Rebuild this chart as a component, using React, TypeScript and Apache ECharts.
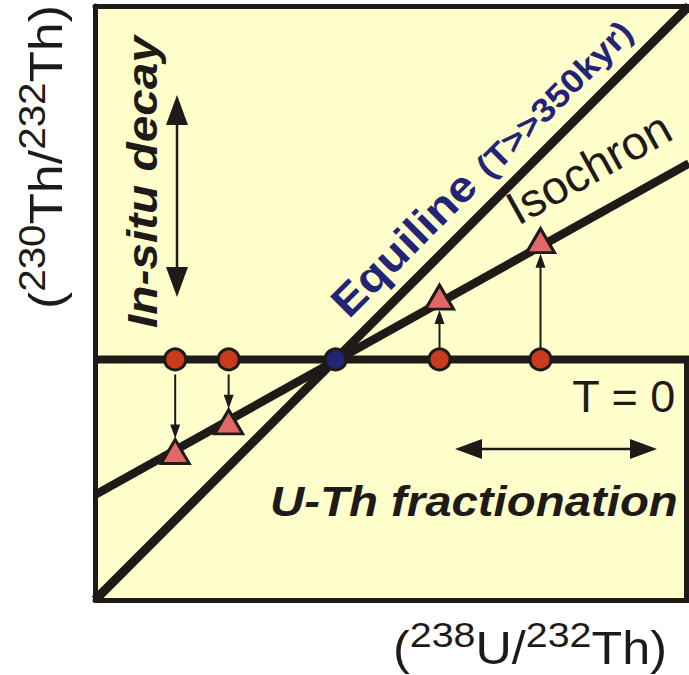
import React, { useEffect, useRef } from "react";
import * as echarts from "echarts";

// ---- data ----
const xRange = [0, 10];
const yRange = [0, 10];
const equilineX = [0, 10];
const equilineY = [0, 10];
const isochronX = [0, 10];
const isochronY = [1.77, 7.35];
const t0Level = 4.05;
const equilibriumPoint = [4.05, 4.05];
const initialX = [1.35, 2.25, 5.8, 7.5]; // circles on the T = 0 line
const isochronPointY = [2.5, 3.0, 5.1, 6.05]; // triangles on the isochron

const INK = "#1e1a17";
const NAVY = "#232377";
const BG = "#FFFFCC";
const FAMILY = "'Liberation Sans', Arial, Helvetica, sans-serif";

let ctx: CanvasRenderingContext2D | null = null;
function measure(text: string, font: string): number {
  if (!ctx) ctx = document.createElement("canvas").getContext("2d");
  if (!ctx) return text.length * 20;
  ctx.font = font;
  return ctx.measureText(text).width;
}

type Part = { text: string; size: number; raise?: number; weight?: string; fstyle?: string; color?: string };

function buildRun(parts: Part[]) {
  let x = 0;
  const children: any[] = [];
  for (const p of parts) {
    const weight = p.weight || "normal";
    const fstyle = p.fstyle || "normal";
    const font = `${fstyle} ${weight} ${p.size}px ${FAMILY}`;
    const w = measure(p.text, font);
    children.push({
      type: "text",
      x,
      y: -(p.raise || 0) - 0.35 * p.size,
      style: {
        text: p.text,
        fontSize: p.size,
        fontFamily: FAMILY,
        fontWeight: weight,
        fontStyle: fstyle,
        fill: p.color || INK,
        align: "left",
        verticalAlign: "middle",
      },
    });
    x += w;
  }
  return { children, width: x };
}

function label(parts: Part[], x: number, y: number, rotation: number, targetWidth?: number, alignRight?: boolean) {
  const run = buildRun(parts);
  const sx = targetWidth ? targetWidth / run.width : 1;
  return {
    type: "group",
    x: alignRight ? x - run.width * sx : x,
    y,
    rotation,
    scaleX: sx,
    z: 10,
    children: run.children,
  };
}

function doubleArrow(x1: number, y1: number, x2: number, y2: number, headLen: number, headHalf: number) {
  const dx = x2 - x1;
  const dy = y2 - y1;
  const L = Math.hypot(dx, dy);
  const ux = dx / L;
  const uy = dy / L;
  const px = -uy;
  const py = ux;
  return {
    type: "group",
    z: 10,
    children: [
      {
        type: "line",
        shape: { x1: x1 + ux * headLen * 0.8, y1: y1 + uy * headLen * 0.8, x2: x2 - ux * headLen * 0.8, y2: y2 - uy * headLen * 0.8 },
        style: { stroke: INK, lineWidth: 2.5 },
      },
      {
        type: "polygon",
        shape: {
          points: [
            [x1, y1],
            [x1 + ux * headLen + px * headHalf, y1 + uy * headLen + py * headHalf],
            [x1 + ux * headLen - px * headHalf, y1 + uy * headLen - py * headHalf],
          ],
        },
        style: { fill: INK },
      },
      {
        type: "polygon",
        shape: {
          points: [
            [x2, y2],
            [x2 - ux * headLen + px * headHalf, y2 - uy * headLen + py * headHalf],
            [x2 - ux * headLen - px * headHalf, y2 - uy * headLen - py * headHalf],
          ],
        },
        style: { fill: INK },
      },
    ],
  };
}

export default function App() {
  const ref = useRef<HTMLDivElement>(null);

  useEffect(() => {
    if (!ref.current) return;
    const chart = echarts.init(ref.current, null, { renderer: "svg" });

    const isoAngle = Math.atan((isochronY[1] - isochronY[0]) / (isochronX[1] - isochronX[0]));

    const option: any = {
      animation: false,
      backgroundColor: "#ffffff",
      grid: {
        left: 95,
        top: 6,
        width: 594,
        height: 594,
        show: true,
        backgroundColor: BG,
        borderWidth: 0,
      },
      xAxis: [
        {
          type: "value",
          min: xRange[0],
          max: xRange[1],
          axisLine: { show: true, onZero: false, lineStyle: { color: INK, width: 5 } },
          axisTick: { show: false },
          axisLabel: { show: false },
          splitLine: { show: false },
        },
        {
          type: "value",
          position: "top",
          min: xRange[0],
          max: xRange[1],
          axisLine: { show: true, onZero: false, lineStyle: { color: INK, width: 5 } },
          axisTick: { show: false },
          axisLabel: { show: false },
          splitLine: { show: false },
        },
      ],
      yAxis: {
        type: "value",
        min: yRange[0],
        max: yRange[1],
        axisLine: { show: true, onZero: false, lineStyle: { color: INK, width: 5 } },
        axisTick: { show: false },
        axisLabel: { show: false },
        splitLine: { show: false },
      },
      series: [
        {
          name: "T = 0",
          type: "line",
          data: [
            [xRange[0], t0Level],
            [xRange[1], t0Level],
          ],
          symbol: "none",
          lineStyle: { color: INK, width: 8 },
          z: 2,
          silent: true,
        },
        {
          name: "Equiline",
          type: "line",
          data: equilineX.map((x, i) => [x, equilineY[i]]),
          symbol: "none",
          lineStyle: { color: INK, width: 9 },
          z: 2,
          silent: true,
        },
        {
          name: "Isochron",
          type: "line",
          data: isochronX.map((x, i) => [x, isochronY[i]]),
          symbol: "none",
          lineStyle: { color: INK, width: 8.5 },
          z: 2,
          silent: true,
        },
        {
          name: "arrows",
          type: "custom",
          coordinateSystem: "cartesian2d",
          data: initialX.map((x, i) => [x, t0Level, isochronPointY[i]]),
          z: 3,
          silent: true,
          renderItem: (params: any, api: any) => {
            const x = api.value(0);
            const y0 = api.value(1);
            const y1 = api.value(2);
            const p0 = api.coord([x, y0]);
            const p1 = api.coord([x, y1]);
            const dir = p1[1] > p0[1] ? 1 : -1;
            const start = p0[1] + dir * (dir > 0 ? 15 : 11);
            const tip = p1[1] - dir * 13;
            const headLen = 14;
            const headW = 5;
            return {
              type: "group",
              children: [
                {
                  type: "line",
                  shape: { x1: p0[0], y1: start, x2: p0[0], y2: tip - dir * headLen * 0.7 },
                  style: { stroke: INK, lineWidth: 2 },
                },
                {
                  type: "polygon",
                  shape: {
                    points: [
                      [p0[0], tip],
                      [p0[0] - headW, tip - dir * headLen],
                      [p0[0] + headW, tip - dir * headLen],
                    ],
                  },
                  style: { fill: INK },
                },
              ],
            };
          },
        },
        {
          name: "initial",
          type: "scatter",
          data: initialX.map((x) => [x, t0Level]),
          symbol: "circle",
          symbolSize: 21,
          itemStyle: { color: "#c93a1f", borderColor: INK, borderWidth: 3, opacity: 1 },
          z: 4,
          silent: true,
        },
        {
          name: "equilibrium",
          type: "scatter",
          data: [equilibriumPoint],
          symbol: "circle",
          symbolSize: 21,
          itemStyle: { color: NAVY, borderColor: INK, borderWidth: 3, opacity: 1 },
          z: 4,
          silent: true,
        },
        {
          name: "isochron points",
          type: "scatter",
          data: initialX.map((x, i) => [x, isochronPointY[i]]),
          symbol: "triangle",
          symbolSize: [28, 24],
          itemStyle: { color: "#e26868", borderColor: INK, borderWidth: 3, opacity: 1 },
          z: 4,
          silent: true,
        },
      ],
      graphic: [
        // partial right border
        {
          type: "rect",
          z: 10,
          shape: { x: 684, y: 362, width: 5, height: 240 },
          style: { fill: INK },
        },
        // x axis title
        label(
          [
            { text: "(", size: 46 },
            { text: "238", size: 36, raise: 17 },
            { text: "U/", size: 46 },
            { text: "232", size: 36, raise: 17 },
            { text: "Th)", size: 46 },
          ],
          393,
          664,
          0,
          274
        ),
        // y axis title
        label(
          [
            { text: "(", size: 46 },
            { text: "230", size: 36, raise: 17 },
            { text: "Th/", size: 46 },
            { text: "232", size: 36, raise: 17 },
            { text: "Th)", size: 46 },
          ],
          62,
          309,
          Math.PI / 2,
          304
        ),
        // Equiline annotation
        label(
          [
            { text: "Equiline ", size: 43, weight: "bold", color: NAVY },
            { text: "(T>>350kyr)", size: 33, weight: "bold", color: NAVY },
          ],
          349,
          320,
          Math.PI / 4,
          404
        ),
        // Isochron annotation
        label([{ text: "Isochron", size: 47 }], 518, 226, isoAngle),
        // T = 0
        label([{ text: "T = 0", size: 45 }], 676, 412, 0, undefined, true),
        // U-Th fractionation
        label([{ text: "U-Th fractionation", size: 42, weight: "bold", fstyle: "italic" }], 270, 516, 0, 408),
        // In-situ decay
        label([{ text: "In-situ decay", size: 43, weight: "bold", fstyle: "italic" }], 157, 328, Math.PI / 2, 292),
        // arrows
        doubleArrow(177, 95, 177, 297, 30, 11),
        doubleArrow(455, 449, 657, 449, 27, 10),
      ],
    };

    chart.setOption(option);
    return () => chart.dispose();
  }, []);

  return (
    <div
      ref={ref}
      style={{ position: "absolute", left: 0, top: 0, width: 689, height: 675 }}
    />
  );
}
